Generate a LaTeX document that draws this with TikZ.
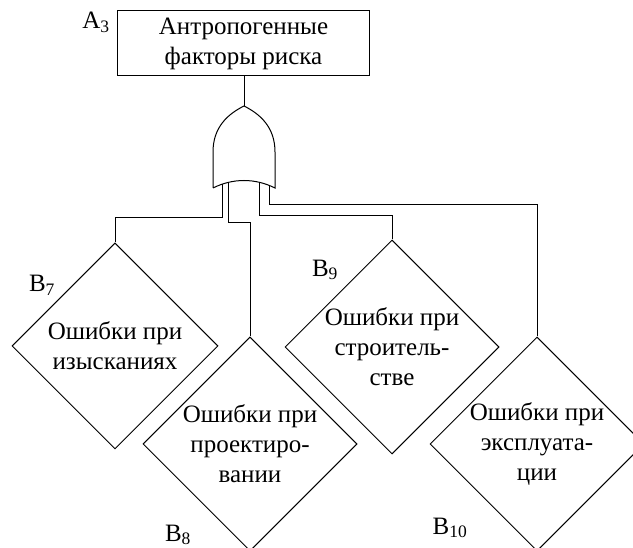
\documentclass[tikz,border=0pt]{standalone}
\usepackage{fontspec}
\setmainfont{Liberation Serif}
\usetikzlibrary{shapes.geometric}

\begin{document}
\begin{tikzpicture}[x=1pt, y=-1pt, line width=1pt,
    txt/.style={font=\fontsize{25}{30}\selectfont, align=center},
    event/.style={draw, rectangle, minimum width=252pt, minimum height=65pt, inner sep=0pt},
    fault/.style={draw, diamond, aspect=1, minimum size=214pt, inner sep=0pt},
    idlabel/.style={font=\fontsize{25}{30}\selectfont, inner sep=0pt}]
    \useasboundingbox (0,0) rectangle (633,548);

    % Top event
    \node[event, txt] (a3) at (243.5,43.5) {Антропогенные\\факторы риска};
    \node[idlabel] (a3lab) at (96,22) {A\textsubscript{3}};

    % Draw OR gate
    \draw (213,188) -- (213,152) .. controls (213,127) and (228,114) .. (244,106)
          .. controls (260,114) and (275,127) .. (275,152) -- (275,188)
          .. controls (255,178) and (233,178) .. (213,188);
    \coordinate (gtop) at (244,106);
    \coordinate (g1) at (222,184.5);
    \coordinate (g2) at (228,183);
    \coordinate (g3) at (259,182);
    \coordinate (g4) at (269,185);
    \draw (gtop |- a3.south) -- (gtop);

    % Draw diamonds
    \node[fault, minimum size=206pt, label={[txt]center:{Ошибки при\\изысканиях}}] (b7) at (115,346) {};
    \node[fault, label={[txt]center:{Ошибки при\\проектиро-\\вании}}] (b8) at (250,444) {};
    \node[fault, label={[txt]center:{Ошибки при\\строитель-\\стве}}] (b9) at (392,347) {};
    \node[fault, label={[txt]center:{Ошибки при\\эксплуата-\\ции}}] (b10) at (537,444) {};

    % Labels
    \node[idlabel] (b7lab) at (42,285) {B\textsubscript{7}};
    \node[idlabel] (b8lab) at (178,535) {B\textsubscript{8}};
    \node[idlabel] (b9lab) at (325,270) {B\textsubscript{9}};
    \node[idlabel] (b10lab) at (450,528) {B\textsubscript{10}};

    % Draw connecting lines
    \draw (g1) -- ++(0,33.5) -| (b7.north);
    \draw (g2) -- ++(0,40) -| (b8.north);
    \draw (g3) -- ++(0,34) -| (b9.north);
    \draw (g4) -- ++(0,20) -| (b10.north);

  \end{tikzpicture}
\end{document}
